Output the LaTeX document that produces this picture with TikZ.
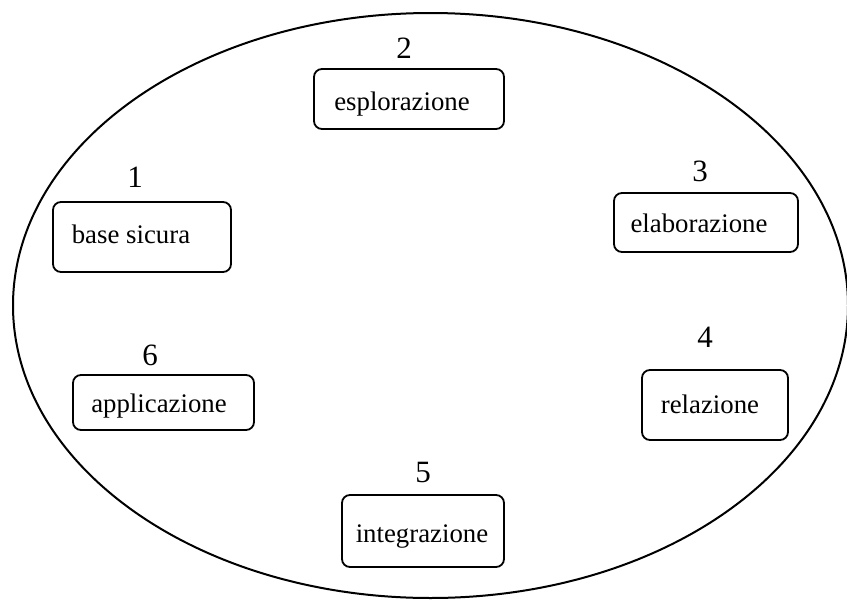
\documentclass[tikz,border=0pt]{standalone}
\usepackage{fontspec}
\setmainfont{Liberation Serif}
\begin{document}
\begin{tikzpicture}[x=1pt,y=-1pt,
  stagebox/.style={draw,line width=1.8pt,rounded corners=8pt,inner sep=0pt},
  stagetext/.style={anchor=base,inner sep=0pt,font=\fontsize{26.8}{30}\selectfont},
  stagenum/.style={anchor=base,inner sep=0pt,font=\fontsize{31}{34}\selectfont}]
\useasboundingbox (0,0) rectangle (847,603);
\draw[line width=2pt] (430.5,305.5) ellipse [x radius=417.5pt, y radius=292.5pt];
% boxes
\node[stagebox,minimum width=178pt,minimum height=70pt] (b1) at (142,237) {};
\node[stagebox,minimum width=190pt,minimum height=60pt] (b2) at (409,99) {};
\node[stagebox,minimum width=184pt,minimum height=59pt] (b3) at (706,222.5) {};
\node[stagebox,minimum width=146pt,minimum height=70pt] (b4) at (715,405) {};
\node[stagebox,minimum width=162pt,minimum height=72pt] (b5) at (423,531) {};
\node[stagebox,minimum width=181pt,minimum height=55pt] (b6) at (163.5,402.5) {};
% texts
\node[stagetext] (t1) at (131,243) {base sicura};
\node[stagetext] (t2) at (402,110) {esplorazione};
\node[stagetext] (t3) at (699,232) {elaborazione};
\node[stagetext] (t4) at (710,413) {relazione};
\node[stagetext] (t5) at (422,542) {integrazione};
\node[stagetext] (t6) at (159,412) {applicazione};
% numbers
\node[stagenum] (n1) at (135,187) {1};
\node[stagenum] (n2) at (404,58) {2};
\node[stagenum] (n3) at (700,181) {3};
\node[stagenum] (n4) at (705,347) {4};
\node[stagenum] (n5) at (423,482) {5};
\node[stagenum] (n6) at (150,365) {6};
\end{tikzpicture}
\end{document}
